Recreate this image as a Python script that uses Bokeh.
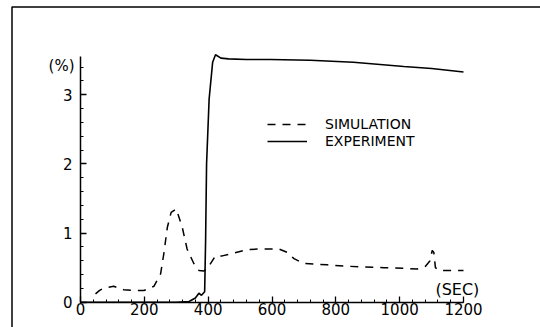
from bokeh.plotting import figure
from bokeh.models import Range1d, FixedTicker, Legend, LegendItem, Label, BoxAnnotation
from bokeh.embed import file_html
from bokeh.resources import INLINE

# ---- data ----
time_sim = [47, 60, 72, 104, 135, 167, 199, 230, 251, 261, 272, 284, 300, 319, 334, 355,
            371, 387, 402, 423, 444, 480, 522, 564, 595, 622, 648, 669, 700, 773, 836,
            888, 951, 1013, 1055, 1081, 1095, 1102, 1107, 1112, 1123, 1200]
sim_pct = [0.12, 0.17, 0.20, 0.23, 0.18, 0.17, 0.17, 0.23, 0.41, 0.70, 1.08, 1.30, 1.35, 1.08,
           0.77, 0.56, 0.46, 0.45, 0.52, 0.67, 0.67, 0.71, 0.76, 0.77, 0.77, 0.77, 0.72,
           0.63, 0.56, 0.54, 0.52, 0.51, 0.50, 0.49, 0.48, 0.52, 0.60, 0.75, 0.72, 0.50,
           0.46, 0.46]

time_exp = [0, 100, 200, 300, 340, 360, 371, 379, 389, 392, 395, 403, 414, 423, 440, 464,
            520, 595, 720, 855, 1013, 1100, 1200]
exp_pct = [0, 0, 0, 0, 0.01, 0.06, 0.13, 0.10, 0.15, 0.90, 2.00, 2.94, 3.47, 3.58, 3.53,
           3.52, 3.51, 3.51, 3.50, 3.47, 3.41, 3.38, 3.33]

x_ticks = [0, 200, 400, 600, 800, 1000, 1200]
x_minor = list(range(0, 1201, 40))
y_ticks = [0, 1, 2, 3]
y_minor = [round(0.2 * i, 1) for i in range(18)]
x_axis_extent = (0, 1200)
y_axis_extent = (0, 3.56)
legend_labels = ["SIMULATION", "EXPERIMENT"]
x_unit = "(SEC)"
y_unit = "(%)"

FONT = "DejaVu Sans"
W, H = 540, 327
# scale: pixels per data unit
KX = 383 / 1200.0
KY = 69.13
x0 = -80 / KX
x1 = x0 + W / KX
y1 = 301.7 / KY
y0 = y1 - H / KY

p = figure(width=W, height=H, output_backend="svg", toolbar_location=None,
           x_range=Range1d(x0, x1), y_range=Range1d(y0, y1),
           min_border_left=0, min_border_right=0, min_border_top=0, min_border_bottom=0)
p.outline_line_color = None
p.xgrid.visible = False
p.ygrid.visible = False
p.background_fill_color = "white"
p.border_fill_color = "white"

# outer frame (only its top and left edges fall inside the picture)
p.add_layout(BoxAnnotation(left=x0 + 11.5 / KX, top=y1 - 6.5 / KY,
                           right=x1 + 400, bottom=y0 - 2,
                           fill_alpha=0, line_color="black", line_width=1.5, line_alpha=1))

r_sim = p.line(time_sim, sim_pct, line_color="black", line_width=1.5, line_dash="8 7")
r_exp = p.line(time_exp, exp_pct, line_color="black", line_width=1.6)

for ax, ticks, minor, standoff, bounds in ((p.xaxis[0], x_ticks, x_minor, 1, x_axis_extent),
                                           (p.yaxis[0], y_ticks, y_minor, 8, y_axis_extent)):
    ax.fixed_location = 0
    ax.bounds = bounds
    ax.ticker = FixedTicker(ticks=ticks, minor_ticks=minor)
    ax.major_tick_in = 6
    ax.major_tick_out = 0
    ax.minor_tick_in = 3
    ax.minor_tick_out = 0
    ax.axis_line_width = 1.5
    ax.axis_line_color = "black"
    ax.major_tick_line_color = "black"
    ax.minor_tick_line_color = "black"
    ax.major_tick_line_width = 1.3
    ax.minor_tick_line_width = 1
    ax.major_label_text_font = FONT
    ax.major_label_text_font_size = "15px"
    ax.major_label_text_color = "black"
    ax.major_label_standoff = standoff

legend_style = dict(padding=0, margin=0, spacing=0, glyph_width=40, glyph_height=16,
                    label_height=16, label_standoff=18, label_text_font=FONT,
                    label_text_font_size="14px", label_text_color="black",
                    border_line_color=None, background_fill_alpha=0)
leg_sim = Legend(items=[LegendItem(label=legend_labels[0], renderers=[r_sim])],
                 location=(267, H - 132), **legend_style)
leg_exp = Legend(items=[LegendItem(label=legend_labels[1], renderers=[r_exp])],
                 location=(267, H - 148.5), **legend_style)
p.add_layout(leg_sim)
p.add_layout(leg_exp)

p.add_layout(Label(x=0, y=3.41, text=y_unit, x_offset=-6, text_align="right",
                   text_baseline="middle", text_font=FONT, text_font_size="15px",
                   text_color="black"))
p.add_layout(Label(x=1112, y=0.18, text=x_unit, text_align="left",
                   text_baseline="middle", text_font=FONT, text_font_size="16px",
                   text_color="black"))

open("out.html", "w").write(file_html(p, INLINE))
